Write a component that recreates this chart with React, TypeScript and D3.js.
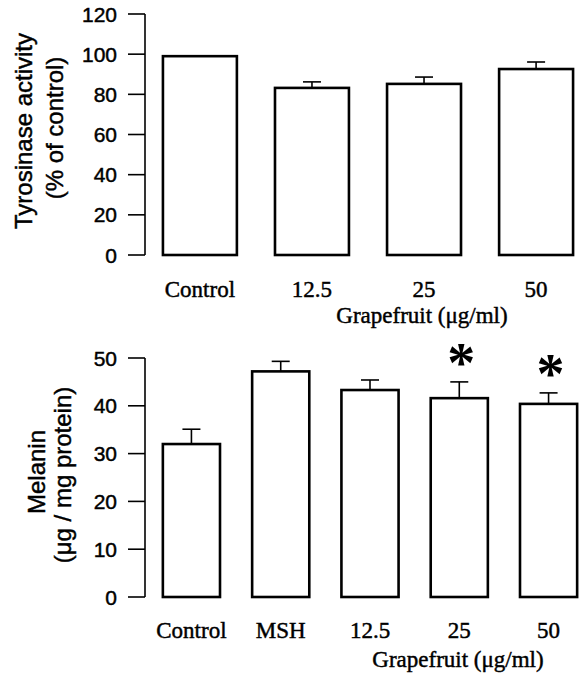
import React from "react";
import * as d3 from "d3";

// top panel: tyrosinase activity
const topCategories = ["Control", "12.5", "25", "50"];
const topValues = [99, 83.2, 85.2, 92.6];
const topErrors = [0, 3, 3.4, 3.5];
const topTicks = [0, 20, 40, 60, 80, 100, 120];

// bottom panel: melanin content
const bottomCategories = ["Control", "MSH", "12.5", "25", "50"];
const bottomValues = [32, 47.2, 43.3, 41.6, 40.4];
const bottomErrors = [3.1, 2.1, 2.1, 3.4, 2.3];
const bottomStars = [false, false, false, true, true];
const bottomTicks = [0, 10, 20, 30, 40, 50];

const SANS = "'Liberation Sans', Arial, sans-serif";
const SERIF = "'Liberation Serif', 'Times New Roman', serif";

// scanned figure: text looks a touch heavier than regular
const ink = { stroke: "#000", strokeWidth: 0.45 };

type PanelProps = {
  categories: string[];
  values: number[];
  errors: number[];
  stars?: boolean[];
  ticks: number[];
  yDomain: [number, number];
  yRange: [number, number];
  xRange: [number, number];
  padInner: number;
  padOuter: number;
  catY: number;
  xTitleX: number;
  xTitleY: number;
  titles: { text: string; x: number; y: number }[];
};

function Panel(p: PanelProps) {
  const y = d3.scaleLinear().domain(p.yDomain).range(p.yRange);
  const x = d3
    .scaleBand<string>()
    .domain(p.categories)
    .range(p.xRange)
    .paddingInner(p.padInner)
    .paddingOuter(p.padOuter);
  const axisX = p.xRange[0];
  const bw = x.bandwidth();

  return (
    <g>
      {/* y axis */}
      <line x1={axisX} x2={axisX} y1={y(p.yDomain[0])} y2={y(p.yDomain[1])} stroke="#000" strokeWidth={1.6} />
      {p.ticks.map((t) => (
        <g key={t}>
          <line x1={axisX - 17} x2={axisX} y1={y(t)} y2={y(t)} stroke="#000" strokeWidth={1.6} />
          <text x={axisX - 28} y={y(t)} dy="0.36em" textAnchor="end" fontFamily={SANS} fontSize={21} {...ink}>
            {t}
          </text>
        </g>
      ))}
      {p.titles.map((t, i) => (
        <text
          key={i}
          transform={`translate(${t.x},${t.y}) rotate(-90)`}
          textAnchor="middle"
          fontFamily={SANS}
          fontSize={24}
          {...ink}
        >
          {t.text}
        </text>
      ))}

      {/* bars */}
      {p.categories.map((c, i) => {
        const bx = x(c) as number;
        const top = y(p.values[i]);
        const cx = bx + bw / 2;
        const errTop = y(p.values[i] + p.errors[i]);
        return (
          <g key={c}>
            <rect
              x={bx}
              y={top}
              width={bw}
              height={y(0) - top}
              fill="#fff"
              stroke="#000"
              strokeWidth={2.6}
            />
            {p.errors[i] > 0 && (
              <g stroke="#000" strokeWidth={1.6}>
                <line x1={cx} x2={cx} y1={top} y2={errTop} />
                <line x1={cx - 9} x2={cx + 9} y1={errTop} y2={errTop} />
              </g>
            )}
            {p.stars && p.stars[i] && (
              <text
                x={cx + 2}
                y={errTop}
                textAnchor="middle"
                fontFamily={SERIF}
                fontWeight="bold"
                fontSize={56}
              >
                *
              </text>
            )}
            <text x={cx} y={p.catY} textAnchor="middle" fontFamily={SERIF} fontSize={23} {...ink}>
              {c}
            </text>
          </g>
        );
      })}
      <text x={p.xTitleX} y={p.xTitleY} textAnchor="middle" fontFamily={SERIF} fontSize={23} {...ink}>
        Grapefruit (μg/ml)
      </text>
    </g>
  );
}

export default function App() {
  return (
    <svg
      width={579}
      height={675}
      style={{ position: "absolute", left: 0, top: 0, background: "#fff" }}
    >
      <Panel
        categories={topCategories}
        values={topValues}
        errors={topErrors}
        ticks={topTicks}
        yDomain={[0, 120]}
        yRange={[255, 14]}
        xRange={[145, 591]}
        padInner={0.34}
        padOuter={0.16}
        catY={297}
        xTitleX={422}
        xTitleY={323}
        titles={[
          { text: "Tyrosinase activity", x: 32, y: 131 },
          { text: "(% of control)", x: 63, y: 128 },
        ]}
      />
      <Panel
        categories={bottomCategories}
        values={bottomValues}
        errors={bottomErrors}
        stars={bottomStars}
        ticks={bottomTicks}
        yDomain={[0, 50]}
        yRange={[597, 358]}
        xRange={[145, 595]}
        padInner={0.36}
        padOuter={0.2}
        catY={638}
        xTitleX={458}
        xTitleY={667}
        titles={[
          { text: "Melanin", x: 45, y: 472 },
          { text: "(μg / mg protein)", x: 71, y: 475 },
        ]}
      />
    </svg>
  );
}
